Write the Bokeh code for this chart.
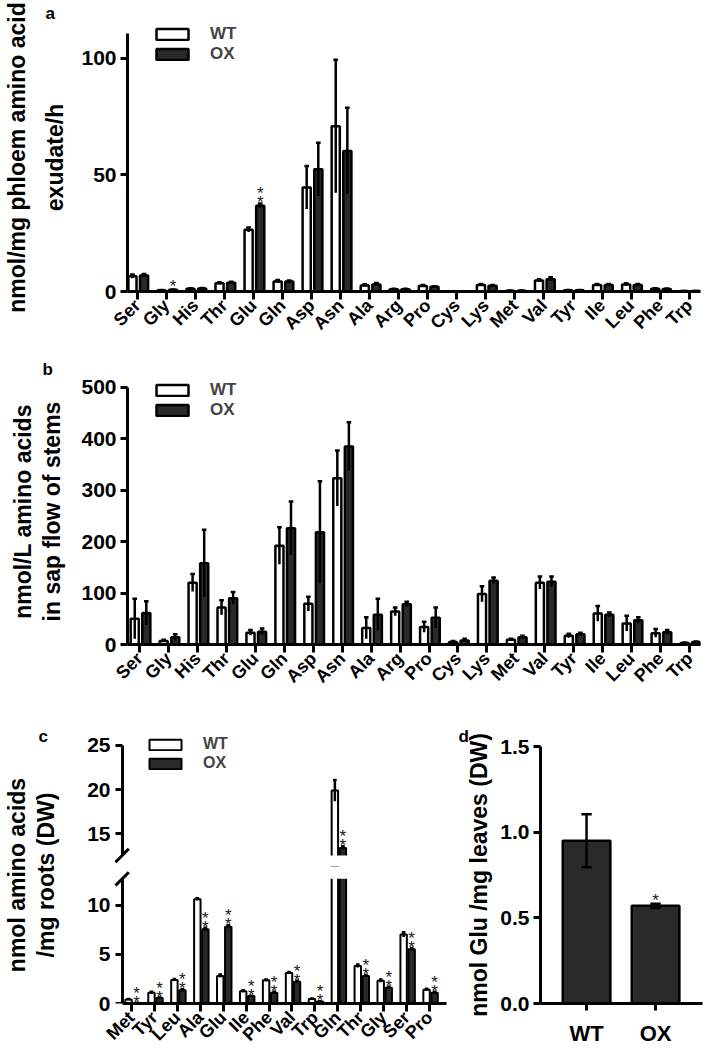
import math
from bokeh.plotting import figure
from bokeh.models import (ColumnDataSource, Range1d, FixedTicker, Legend, LegendItem, LinearAxis,
                          Arrow, PrintfTickFormatter)
from bokeh.transform import dodge
from bokeh.core.properties import value
from bokeh.layouts import column, row
from bokeh.embed import file_html
from bokeh.resources import INLINE

FONT = "Liberation Sans"
DARK = "#2a2a2a"

# ---------------- data ----------------
cats_a = ["Ser", "Gly", "His", "Thr", "Glu", "Gln", "Asp", "Asn", "Ala", "Arg",
          "Pro", "Cys", "Lys", "Met", "Val", "Tyr", "Ile", "Leu", "Phe", "Trp"]
wt_a = [6.5, 0.5, 1.2, 3.5, 26.5, 4.3, 44.6, 70.9, 2.6, 1.0, 2.4, 0, 2.8, 0.3, 4.7, 0.5, 2.8, 3.0, 1.2, 0.2]
wt_err_a = [0.8, 0.1, 0.2, 0.5, 1.0, 0.6, 9.2, 28.5, 0.5, 0.2, 0.4, 0, 0.4, 0.1, 0.6, 0.1, 0.4, 0.5, 0.2, 0.05]
ox_a = [6.9, 0.8, 1.3, 3.8, 36.8, 4.3, 52.4, 60.3, 3.0, 1.0, 2.0, 0, 2.5, 0.3, 5.3, 0.5, 2.8, 2.8, 1.1, 0.2]
ox_err_a = [0.6, 0.1, 0.2, 0.4, 1.0, 0.4, 11.4, 18.5, 0.6, 0.2, 0.3, 0, 0.3, 0.1, 0.8, 0.1, 0.4, 0.4, 0.2, 0.05]
stars_a = [0, 1, 0, 0, 2, 0, 0, 0, 0, 0, 0, 0, 0, 0, 0, 0, 0, 0, 0, 0]

cats_b = cats_a
wt_b = [50, 7, 120, 72, 23, 192, 79, 323, 32, 64, 34, 5, 98, 9, 120, 17, 60, 41, 22, 3]
wt_err_b = [39, 2, 17, 14, 5, 36, 14, 54, 21, 8, 10, 2, 15, 2, 12, 4, 15, 15, 8, 1]
ox_b = [61, 14, 158, 90, 25, 226, 218, 385, 58, 78, 52, 8, 124, 14, 122, 20, 58, 47, 24, 5]
ox_err_b = [23, 6, 65, 12, 6, 52, 99, 47, 31, 5, 20, 3, 6, 3, 10, 3, 4, 6, 4, 1]
stars_b = [0] * 20

cats_c = ["Met", "Tyr", "Leu", "Ala", "Glu", "Ile", "Phe", "Val", "Trp", "Gln", "Thr", "Gly", "Ser", "Pro"]
wt_c = [0.4, 1.1, 2.4, 10.6, 2.8, 1.25, 2.35, 3.1, 0.45, 19.9, 3.8, 2.3, 7.0, 1.4]
wt_err_c = [0.05, 0.1, 0.1, 0.1, 0.15, 0.1, 0.1, 0.1, 0.05, 1.2, 0.15, 0.15, 0.25, 0.1]
ox_c = [0.05, 0.55, 1.35, 7.55, 7.8, 0.75, 1.1, 2.2, 0.2, 13.4, 2.8, 1.6, 5.5, 1.1]
ox_err_c = [0.02, 0.05, 0.1, 0.15, 0.15, 0.05, 0.1, 0.1, 0.03, 0.2, 0.1, 0.1, 0.15, 0.1]
stars_c = [2] * 14

groups_d = ["WT", "OX"]
vals_d = [0.95, 0.57]
err_d = [0.155, 0.012]
stars_d = [0, 1]

ticks_a = [0, 50, 100]
ticks_b = [0, 100, 200, 300, 400, 500]
ticks_c_top = [15, 20, 25]
ticks_c_bot = [0, 5, 10]
ticks_d = [0, 0.5, 1.0, 1.5]

# axis break of panel c: lower segment ends at BREAK_LO, upper segment starts at BREAK_HI
BREAK_LO = 12.67
BREAK_HI = 12.54
LABEL_SIZE = "23px"


# ---------------- helpers ----------------
def make_fig(width, height, mb, xr, yr, yticks, ybounds, show_x=True, title=None):
    p = figure(width=width, height=height, toolbar_location=None, output_backend="svg",
               x_range=Range1d(*xr), y_range=Range1d(*yr),
               min_border_left=mb[0], min_border_right=mb[1],
               min_border_top=mb[2], min_border_bottom=mb[3],
               x_axis_location="below" if show_x else None, title=title)
    p.outline_line_color = None
    p.grid.visible = False
    p.background_fill_color = "white"
    p.border_fill_color = "white"
    for ax in p.axis:
        ax.axis_line_width = 3
        ax.axis_line_color = "black"
        ax.major_tick_line_width = 3
        ax.major_tick_line_color = "black"
        ax.major_tick_in = 0
        ax.major_tick_out = 7
        ax.minor_tick_line_color = None
        ax.major_label_text_font = FONT
        ax.major_label_text_font_style = "bold"
        ax.major_label_text_font_size = "21px"
        ax.major_label_text_color = "black"
    p.yaxis.ticker = FixedTicker(ticks=yticks, minor_ticks=[])
    p.yaxis.major_label_standoff = 4
    p.yaxis.bounds = ybounds
    return p


def style_letter(p, offset, standoff):
    p.title.align = "left"
    p.title.offset = offset
    p.title.standoff = standoff
    p.title.text_font = FONT
    p.title.text_font_size = "17px"
    p.title.text_font_style = "bold"
    p.title.text_color = "black"


def label_axis(p, text, standoff):
    ax = LinearAxis(axis_label=text, ticker=FixedTicker(ticks=[], minor_ticks=[]),
                    axis_line_color=None, major_tick_line_color=None, minor_tick_line_color=None,
                    major_tick_out=0, major_tick_in=0, major_label_standoff=0,
                    axis_label_standoff=standoff, axis_label_text_font=FONT,
                    axis_label_text_font_style="bold", axis_label_text_font_size=LABEL_SIZE,
                    axis_label_text_color="black")
    p.add_layout(ax, "left")


def cat_xaxis(p, cats):
    p.xaxis.ticker = FixedTicker(ticks=list(range(len(cats))), minor_ticks=[])
    p.xaxis.major_label_overrides = {i: c for i, c in enumerate(cats)}
    p.xaxis.major_label_orientation = math.pi / 4
    p.xaxis.major_label_text_font_size = "18px"
    p.xaxis.major_tick_out = 8
    p.xaxis.major_label_standoff = 3


def draw_stars(p, vals, errs, stars, off, lo=-1e9, hi=1e9):
    sx, sy, so = [], [], []
    for i, k in enumerate(stars):
        top = vals[i] + errs[i]
        if not (lo <= top <= hi):
            continue
        if k == 1:
            sx.append(i); sy.append(top); so.append(-3)
        elif k == 2:
            sx += [i, i]; sy += [top, top]; so += [-0.5, -9.5]
    ssrc = ColumnDataSource(dict(x=sx, y=sy, yo=so))
    p.text(x=dodge("x", off, range=p.x_range), y="y", y_offset="yo", text=value("*"), source=ssrc,
           text_align="center", text_baseline="alphabetic", text_font=value(FONT),
           text_font_size=value("17px"), text_color="#1a1a1a")


def draw_bars(p, wt, wt_err, ox, ox_err, stars, w, offs, cap, lw=2.5, lo=-1e9, hi=1e9):
    n = len(wt)
    src = ColumnDataSource(dict(
        x=list(range(n)), wt=wt, ox=ox,
        wt_lo=[v - e for v, e in zip(wt, wt_err)], wt_hi=[v + e for v, e in zip(wt, wt_err)],
        ox_lo=[v - e for v, e in zip(ox, ox_err)], ox_hi=[v + e for v, e in zip(ox, ox_err)]))
    r_wt = p.vbar(x=dodge("x", offs[0], range=p.x_range), top="wt", bottom=0, width=w, source=src,
                  fill_color="white", line_color="black", line_width=lw)
    r_ox = p.vbar(x=dodge("x", offs[1], range=p.x_range), top="ox", bottom=0, width=w, source=src,
                  fill_color=DARK, line_color="black", line_width=lw)
    for key, off in (("wt", offs[0]), ("ox", offs[1])):
        p.segment(x0=dodge("x", off, range=p.x_range), y0=key + "_lo",
                  x1=dodge("x", off, range=p.x_range), y1=key + "_hi",
                  source=src, line_width=2.5, line_color="black")
        p.segment(x0=dodge("x", off - cap, range=p.x_range), y0=key + "_hi",
                  x1=dodge("x", off + cap, range=p.x_range), y1=key + "_hi",
                  source=src, line_width=2.5, line_color="black")
    draw_stars(p, ox, ox_err, stars, offs[1], lo, hi)
    return r_wt, r_ox


def add_legend_item(p, label, r, vx, vy, gh, fs="17px"):
    lg = Legend(items=[LegendItem(label=label, renderers=[r])],
                location=(vx, vy), orientation="vertical", padding=0, margin=0,
                spacing=0, glyph_width=40, glyph_height=gh, label_height=24, label_width=40,
                label_standoff=18, border_line_color=None, background_fill_alpha=0,
                label_text_font=FONT, label_text_font_size=fs,
                label_text_font_style="bold", label_text_baseline="middle")
    p.add_layout(lg)


# ---------------- panel a ----------------
pa = make_fig(702, 343, (120, 2, 22, 52), (-0.34, 19.39), (0, 114.96), ticks_a, (0, 110.7), title="a")
style_letter(pa, -82, 2)
cat_xaxis(pa, cats_a)
ra_wt, ra_ox = draw_bars(pa, wt_a, wt_err_a, ox_a, ox_err_a, stars_a, 0.28, (-0.17, 0.23), 0.08)
add_legend_item(pa, "WT", ra_wt, 25, 245, 14)
add_legend_item(pa, "OX", ra_ox, 25, 225, 14)
label_axis(pa, "exudate/h", 11)
label_axis(pa, "nmol/mg phloem amino acid", 9)

# ---------------- panel b ----------------
pb = make_fig(702, 353, (120, 0, 35, 52), (-0.42, 19.38), (0, 516.9), ticks_b, (0, 500), title="b")
style_letter(pb, -85, 0)
cat_xaxis(pb, cats_b)
rb_wt, rb_ox = draw_bars(pb, wt_b, wt_err_b, ox_b, ox_err_b, stars_b, 0.28, (-0.17, 0.23), 0.08)
add_legend_item(pb, "WT", rb_wt, 25, 242, 14)
add_legend_item(pb, "OX", rb_ox, 25, 222, 14)
label_axis(pb, "in sap flow of stems", 14)
label_axis(pb, "nmol/L amino acids", 0)

# ---------------- panel c (broken axis) ----------------
xr_c = (-0.83, 13.74)
y_axis_x = -0.39
pc_top = make_fig(377, 170, (34, 9, 36, 0), xr_c, (11.30, 26.47), ticks_c_top, (BREAK_HI, 25),
                  show_x=False)
pc_bot = make_fig(377, 189, (34, 9, 0, 52), xr_c, (0, 13.92), ticks_c_bot, (0, BREAK_LO))
pc_bot.x_range = pc_top.x_range
for pc, tks, bnds in ((pc_top, ticks_c_top, (BREAK_HI, 25)), (pc_bot, ticks_c_bot, (0, BREAK_LO))):
    # outer axis carries only the tick labels
    pc.yaxis.axis_line_color = None
    pc.yaxis.major_tick_line_color = None
    pc.yaxis.major_tick_out = 0
    pc.yaxis.major_label_standoff = 2
    # the drawn axis line and ticks sit inside the frame so that the break marks can cross it
    pc.add_layout(LinearAxis(fixed_location=y_axis_x, ticker=FixedTicker(ticks=tks, minor_ticks=[]),
                             bounds=bnds, axis_line_width=3, axis_line_color="black",
                             major_tick_line_width=3, major_tick_line_color="black",
                             major_tick_in=0, major_tick_out=7, minor_tick_line_color=None,
                             major_label_overrides={t: "" for t in tks},
                             major_label_text_alpha=0), "left")
cat_xaxis(pc_bot, cats_c)
pc_bot.xaxis.bounds = (y_axis_x, xr_c[1])
rc_wt, rc_ox = draw_bars(pc_top, wt_c, wt_err_c, ox_c, ox_err_c, stars_c, 0.28, (-0.13, 0.22), 0.08,
                         lw=2, lo=BREAK_HI, hi=pc_top.y_range.end)
draw_bars(pc_bot, wt_c, wt_err_c, ox_c, ox_err_c, stars_c, 0.28, (-0.13, 0.22), 0.08,
          lw=2, lo=0, hi=BREAK_LO)
# blank the gap of the broken axis
pc_top.quad(left=[xr_c[0]], right=[xr_c[1]], bottom=[pc_top.y_range.start], top=[BREAK_HI],
            fill_color="white", line_color=None)
pc_bot.quad(left=[xr_c[0]], right=[xr_c[1]], bottom=[BREAK_LO], top=[pc_bot.y_range.end],
            fill_color="white", line_color=None)
add_legend_item(pc_top, "WT", rc_wt, 33, 110, 13, "16px")
add_legend_item(pc_top, "OX", rc_ox, 33, 91, 13, "16px")
pc_top.add_layout(Arrow(x_start=3, y_start=4.3, x_end=16.3, y_end=17.7, start_units="screen",
                        end_units="screen", end=None, line_width=3, line_color="black"))
pc_bot.add_layout(Arrow(x_start=3, y_start=118, x_end=16.3, y_end=131.3, start_units="screen",
                        end_units="screen", end=None, line_width=3, line_color="black"))

lab = figure(width=78, height=359, toolbar_location=None, output_backend="svg",
             x_axis_location=None, y_axis_location=None, title="c",
             min_border_left=70, min_border_right=6, min_border_top=50, min_border_bottom=48,
             x_range=Range1d(0, 1), y_range=Range1d(0, 1))
lab.outline_line_color = None
lab.grid.visible = False
style_letter(lab, -32, 2)
label_axis(lab, "/mg roots (DW)", 12)
label_axis(lab, "nmol amino acids", 0)

# ---------------- panel d ----------------
pd = make_fig(248, 359, (85, 1, 49, 52), (-0.667, 1.68), (0, 1.5), ticks_d, (0, 1.5), title="d")
style_letter(pd, -82, 1)
pd.yaxis.formatter = PrintfTickFormatter(format="%.1f")
pd.xaxis.ticker = FixedTicker(ticks=list(range(len(groups_d))), minor_ticks=[])
pd.xaxis.major_label_overrides = {i: g for i, g in enumerate(groups_d)}
pd.xaxis.major_label_text_font_size = "22px"
pd.xaxis.major_label_standoff = 10
src_d = ColumnDataSource(dict(x=list(range(len(groups_d))), v=vals_d,
                              lo=[v - e for v, e in zip(vals_d, err_d)],
                              hi=[v + e for v, e in zip(vals_d, err_d)]))
pd.vbar(x="x", top="v", bottom=0, width=0.69, source=src_d, fill_color=DARK,
        line_color="black", line_width=2.5)
pd.segment(x0="x", y0="lo", x1="x", y1="hi", source=src_d, line_width=2.5, line_color="black")
for key in ("lo", "hi"):
    pd.segment(x0=dodge("x", -0.075, range=pd.x_range), y0=key,
               x1=dodge("x", 0.075, range=pd.x_range), y1=key,
               source=src_d, line_width=2.5, line_color="black")
draw_stars(pd, vals_d, err_d, stars_d, 0)
label_axis(pd, "nmol Glu /mg leaves (DW)", 6)

root = column(pa, pb, row(lab, column(pc_top, pc_bot), pd))
open("out.html", "w").write(file_html(root, INLINE))
